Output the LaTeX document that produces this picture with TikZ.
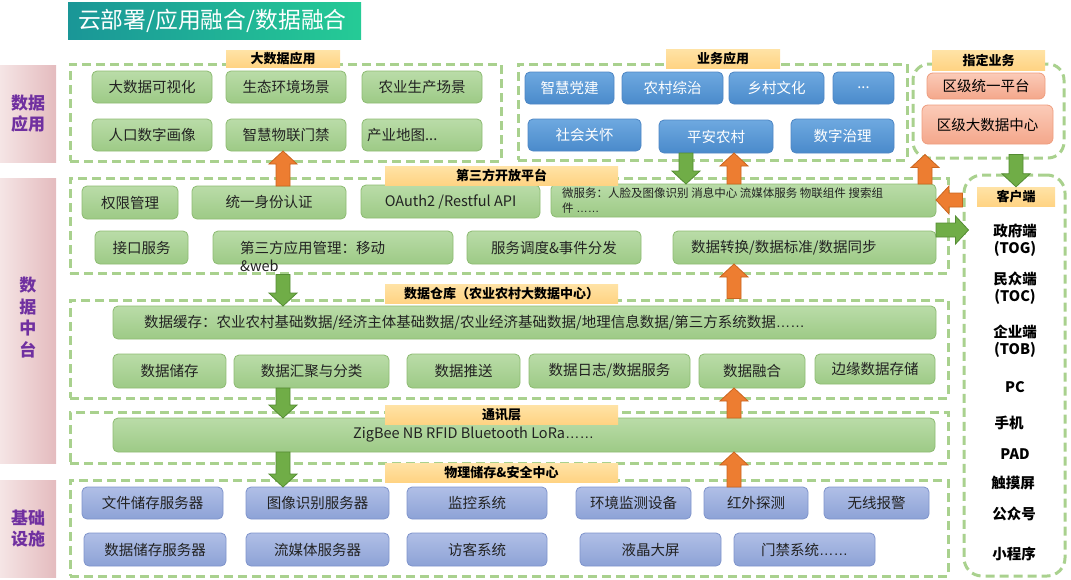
\documentclass[tikz,border=0pt]{standalone}
\usepackage{fontspec}
\setmainfont{Noto Sans CJK SC}
\newfontfamily\lsf{Liberation Sans}
\usetikzlibrary{calc}
\definecolor{dashg}{HTML}{A9D18E}
\definecolor{gtop}{HTML}{BADCA8}
\definecolor{gbot}{HTML}{9DCA86}
\definecolor{gedge}{HTML}{8DBB72}
\definecolor{btop}{HTML}{6EA9E0}
\definecolor{bbot}{HTML}{4A8ACB}
\definecolor{bedge}{HTML}{4E86C4}
\definecolor{ptop}{HTML}{B0BFE6}
\definecolor{pbot}{HTML}{8DA2D6}
\definecolor{pedge}{HTML}{7F94CB}
\definecolor{salT}{HTML}{FBCBB8}
\definecolor{salB}{HTML}{F4A78B}
\definecolor{salE}{HTML}{EE9D7E}
\definecolor{ttop}{HTML}{FFE3A6}
\definecolor{tbot}{HTML}{FFD383}
\definecolor{pinkL}{HTML}{F5E5E5}
\definecolor{pinkR}{HTML}{E4BBBE}
\definecolor{purp}{HTML}{7030A0}
\definecolor{orA}{HTML}{ED7D31}
\definecolor{orE}{HTML}{C9651F}
\definecolor{grA}{HTML}{70AD47}
\definecolor{grE}{HTML}{548C33}
\definecolor{tealL}{HTML}{1A9697}
\definecolor{tealR}{HTML}{25CB96}
\definecolor{ink}{HTML}{222222}
\newcommand\fsA{\fontsize{14.5}{17}\selectfont}
\newcommand\ellip{{\lsf ……}}
% box from corner (x1,y1) to (x2,y2): style, name, x1, y1, x2, y2, text
\newcommand\Bx[7]{\node[#1, minimum width={#5-#3}, minimum height={#6-#4}] (#2) at ({(#3+#5)/2},{(#4+#6)/2}) {#7};}
\newcommand\ArrUp[3]{\draw[#1] ($(#2)+(-7,0)$) -- ($(#3)+(-7,13)$) -- ($(#3)+(-14,13)$) -- (#3) -- ($(#3)+(14,13)$) -- ($(#3)+(7,13)$) -- ($(#2)+(7,0)$) -- cycle;}
\newcommand\ArrDn[3]{\draw[#1] ($(#2)+(-7,0)$) -- ($(#3)+(-7,-13)$) -- ($(#3)+(-14,-13)$) -- (#3) -- ($(#3)+(14,-13)$) -- ($(#3)+(7,-13)$) -- ($(#2)+(7,0)$) -- cycle;}
\newcommand\ArrLt[3]{\draw[#1] ($(#2)+(0,-7)$) -- ($(#3)+(13,-7)$) -- ($(#3)+(13,-14)$) -- (#3) -- ($(#3)+(13,14)$) -- ($(#3)+(13,7)$) -- ($(#2)+(0,7)$) -- cycle;}
\newcommand\ArrRt[3]{\draw[#1] ($(#2)+(0,-7)$) -- ($(#3)+(-13,-7)$) -- ($(#3)+(-13,-14)$) -- (#3) -- ($(#3)+(-13,14)$) -- ($(#3)+(-13,7)$) -- ($(#2)+(0,7)$) -- cycle;}
\tikzset{
 bx/.style={inner sep=0pt, outer sep=0pt, font=\fsA},
 gbox/.style={bx, rounded corners=5pt, draw=gedge, line width=0.8pt, top color=gtop, bottom color=gbot, text=ink},
 bbox/.style={bx, rounded corners=5pt, draw=bedge, line width=0.8pt, top color=btop, bottom color=bbot, text=white},
 pbox/.style={bx, rounded corners=5pt, draw=pedge, line width=0.8pt, top color=ptop, bottom color=pbot, text=ink},
 sbox/.style={bx, rounded corners=6pt, draw=salE, line width=0.8pt, top color=salT, bottom color=salB, text=black},
 dpanel/.style={draw=dashg, line width=3pt, dash pattern=on 9pt off 5pt, inner sep=0pt},
 tagbox/.style={inner sep=0pt, top color=ttop, bottom color=tbot, font=\bfseries\fontsize{13}{15}\selectfont, text=black},
 side/.style={inner sep=0pt, left color=pinkL, right color=pinkR},
 sidetxt/.style={inner sep=0pt, text=purp, font=\bfseries\fontsize{17}{21.5}\selectfont, align=center},
 ctxt/.style={font=\bfseries\fontsize{14.5}{17}\selectfont, align=center, inner sep=0pt, text=black},
 txt/.style={font=\fsA, inner sep=0pt, text=ink},
 oarr/.style={fill=orA, draw=orE, line width=0.8pt},
 garr/.style={fill=grA, draw=grE, line width=0.8pt},
}
\begin{document}
\begin{tikzpicture}[x=1pt,y=-1pt]
\useasboundingbox (0,0) rectangle (1071,579);
% title
\Bx{inner sep=0pt, left color=tealL, right color=tealR}{title}{68}{2}{361}{39}{}
\node[inner sep=0pt, anchor=west, text=white, font=\fontsize{22.8}{27}\selectfont] (titlet) at ($(title.west)+(10,0.5)$) {云部署/应用融合/数据融合};
% side labels
\Bx{side}{l1}{0}{65}{56}{162}{}
\node[sidetxt] (l1t) at (l1.center) {数据\\应用};
\Bx{side}{l2}{0}{178}{56}{463}{}
\node[sidetxt] (l2t) at ($(l2.center)+(0,-3)$) {数\\据\\中\\台};
\Bx{side}{l3}{0}{480}{56}{577}{}
\node[sidetxt] (l3t) at (l3.center) {基础\\设施};
% panels
\Bx{dpanel}{pA}{70}{64}{501}{161}{}
\Bx{dpanel}{pB}{518}{64}{907}{160}{}
\Bx{dpanel, rounded corners=16pt}{pC}{913}{64}{1064}{158}{}
\Bx{dpanel}{pD}{70}{178}{948}{273}{}
\Bx{dpanel}{pE}{70}{300}{948}{398}{}
\Bx{dpanel}{pF}{70}{412}{948}{463}{}
\Bx{dpanel}{pG}{70}{480}{948}{576}{}
\Bx{dpanel, rounded corners=18pt}{pH}{964}{175}{1065}{576}{}
% big data apps
\Bx{gbox}{a1}{92}{71}{212}{103}{大数据可视化}
\Bx{gbox}{a2}{226}{71}{346}{103}{生态环境场景}
\Bx{gbox}{a3}{362}{71}{482}{103}{农业生产场景}
\Bx{gbox}{a4}{92}{119}{212}{151}{人口数字画像}
\Bx{gbox}{a5}{226}{119}{346}{151}{智慧物联门禁}
\Bx{gbox}{a6}{362}{119}{482}{151}{}
\node[txt, anchor=west] (a6t) at ($(a6.west)+(5,0)$) {产业地图...};
% business apps
\Bx{bbox}{b1}{525}{72}{614}{104}{智慧党建}
\Bx{bbox}{b2}{622}{72}{723}{104}{农村综治}
\Bx{bbox}{b3}{729}{72}{824}{104}{乡村文化}
\Bx{bbox}{b4}{833}{72}{894}{104}{...}
\Bx{bbox}{b5}{528}{119}{641}{151}{社会关怀}
\Bx{bbox}{b6}{659}{120}{773}{153}{平安农村}
\Bx{bbox}{b7}{791}{119}{894}{153}{数字治理}
% designated
\Bx{sbox}{c1}{927}{73}{1045}{99}{区级统一平台}
\Bx{sbox}{c2}{922}{105}{1053}{144}{区级大数据中心}
% third party
\Bx{gbox}{d1}{82}{186}{178}{219}{权限管理}
\Bx{gbox}{d2}{192}{186}{346}{219}{统一身份认证}
\Bx{gbox}{d3}{361}{185}{540}{218}{OAuth2 /Restful API}
\Bx{gbox}{d4}{551}{184}{936}{217}{}
\node[txt, anchor=west, align=left, font=\fontsize{11.5}{15}\selectfont] (d4t) at ($(d4.west)+(11,0)$) {微服务：人脸及图像识别 消息中心 流媒体服务 物联组件 搜索组\\件 \ellip};
\Bx{gbox}{d5}{95}{231}{188}{264}{接口服务}
\Bx{gbox}{d6}{213}{231}{453}{264}{}
\node[txt, anchor=west, align=left, font=\fontsize{14.5}{18}\selectfont] (d6t) at ($(d6.west)+(27,8.5)$) {第三方应用管理：移动\\\&web};
\Bx{gbox}{d7}{467}{231}{641}{264}{服务调度\&事件分发}
\Bx{gbox}{d8}{673}{231}{936}{264}{}
\node[txt, anchor=west] (d8t) at ($(d8.west)+(18,0)$) {数据转换/数据标准/数据同步};
% warehouse
\Bx{gbox}{e1}{113}{306}{936}{339}{}
\node[txt, anchor=west] (e1t) at ($(e1.west)+(31,0)$) {数据缓存：农业农村基础数据/经济主体基础数据/农业经济基础数据/地理信息数据/第三方系统数据\ellip};
\Bx{gbox}{e2}{113}{354}{226}{388}{数据储存}
\Bx{gbox}{e3}{234}{355}{389}{388}{数据汇聚与分类}
\Bx{gbox}{e4}{407}{354}{520}{388}{数据推送}
\Bx{gbox}{e5}{529}{354}{690}{388}{数据日志/数据服务}
\Bx{gbox}{e6}{699}{354}{805}{388}{数据融合}
\Bx{gbox}{e7}{815}{354}{935}{384}{边缘数据存储}
% comm
\Bx{gbox}{f1}{113}{418}{935}{452}{}
\node[txt, anchor=west] (f1t) at ($(f1.west)+(240,0)$) {ZigBee NB RFID Bluetooth LoRa\ellip};
% physical
\Bx{pbox}{g1}{82}{487}{223}{519}{文件储存服务器}
\Bx{pbox}{g2}{246}{487}{389}{519}{图像识别服务器}
\Bx{pbox}{g3}{407}{487}{547}{519}{监控系统}
\Bx{pbox}{g4}{576}{487}{691}{519}{环境监测设备}
\Bx{pbox}{g5}{704}{487}{808}{519}{红外探测}
\Bx{pbox}{g6}{824}{487}{929}{519}{无线报警}
\Bx{pbox}{g7}{84}{533}{226}{566}{数据储存服务器}
\Bx{pbox}{g8}{246}{533}{389}{566}{流媒体服务器}
\Bx{pbox}{g9}{407}{533}{547}{566}{访客系统}
\Bx{pbox}{g10}{580}{533}{721}{566}{液晶大屏}
\Bx{pbox}{g11}{734}{533}{875}{566}{门禁系统\ellip}
% tags
\Bx{tagbox}{tA}{226}{50}{340}{67}{大数据应用}
\Bx{tagbox}{tB}{666}{49}{780}{68}{业务应用}
\Bx{tagbox}{tC}{932}{50}{1045}{70}{指定业务}
\Bx{tagbox}{tD}{385}{166}{618}{185}{第三方开放平台}
\Bx{tagbox}{tE}{385}{284}{618}{303}{数据仓库（农业农村大数据中心）}
\Bx{tagbox}{tF}{385}{405}{618}{424}{通讯层}
\Bx{tagbox}{tG}{385}{463}{618}{482}{物理储存\&安全中心}
\Bx{tagbox}{tH}{977}{187}{1055}{206}{客户端}
% client texts
\node[ctxt] (r1) at (1015,240) {政府端\\(TOG)};
\node[ctxt] (r2) at (1015,288) {民众端\\(TOC)};
\node[ctxt] (r3) at (1015,341) {企业端\\(TOB)};
\node[ctxt] (r4) at (1015,387) {PC};
\node[ctxt] (r5) at (1009,423) {手机};
\node[ctxt] (r6) at (1015,454) {PAD};
\node[ctxt] (r7) at (1013,483) {触摸屏};
\node[ctxt] (r8) at (1014,514) {公众号};
\node[ctxt] (r9) at (1014,554) {小程序};
% arrow columns / rows
\coordinate (cA) at (283,0);
\coordinate (cB) at (686,0);
\coordinate (cC) at (734,0);
\coordinate (cD) at (925,0);
\coordinate (cE) at (1016,0);
\coordinate (rA) at (0,200);
\coordinate (rB) at (0,230);
\coordinate (s1) at (d2.north -| cA); \coordinate (e1p) at (a5.south -| cA);
\coordinate (s2) at (b6.south -| cB); \coordinate (e2p) at (d4.north -| cB);
\coordinate (s3) at (d4.north -| cC); \coordinate (e3p) at (b6.south -| cC);
\coordinate (s4) at (d4.north -| cD); \coordinate (e4q) at (pC.south -| cD);
\coordinate (e4p) at ($(e4q)+(0,-5)$);
\coordinate (s5q) at (pC.south -| cE); \coordinate (s5) at ($(s5q)+(0,-5)$);
\coordinate (e5p) at (tH.north -| cE);
\coordinate (s6) at (pH.west |- rA); \coordinate (e6p) at (d4.east |- rA);
\coordinate (s7) at (d8.east |- rB); \coordinate (e7q) at (pH.west |- rB);
\coordinate (e7p) at ($(e7q)+(6,0)$);
\coordinate (s8) at (pD.south -| cA); \coordinate (e8p) at (e1.north -| cA);
\coordinate (s9) at (pE.north -| cC); \coordinate (e9p) at (d8.south -| cC);
\coordinate (s10) at (e3.south -| cA); \coordinate (e10p) at (f1.north -| cA);
\coordinate (s11) at (f1.north -| cC); \coordinate (e11p) at (e6.south -| cC);
\coordinate (s12) at (f1.south -| cA); \coordinate (e12p) at (g2.north -| cA);
\coordinate (s13) at (g5.north -| cC); \coordinate (e13p) at (f1.south -| cC);
\ArrUp{oarr}{s1}{e1p}
\ArrDn{garr}{s2}{e2p}
\ArrUp{oarr}{s3}{e3p}
\ArrUp{oarr}{s4}{e4p}
\ArrDn{garr}{s5}{e5p}
\ArrLt{oarr}{s6}{e6p}
\ArrRt{garr}{s7}{e7p}
\ArrDn{garr}{s8}{e8p}
\ArrUp{oarr}{s9}{e9p}
\ArrDn{garr}{s10}{e10p}
\ArrUp{oarr}{s11}{e11p}
\ArrDn{garr}{s12}{e12p}
\ArrUp{oarr}{s13}{e13p}
\end{tikzpicture}
\end{document}
